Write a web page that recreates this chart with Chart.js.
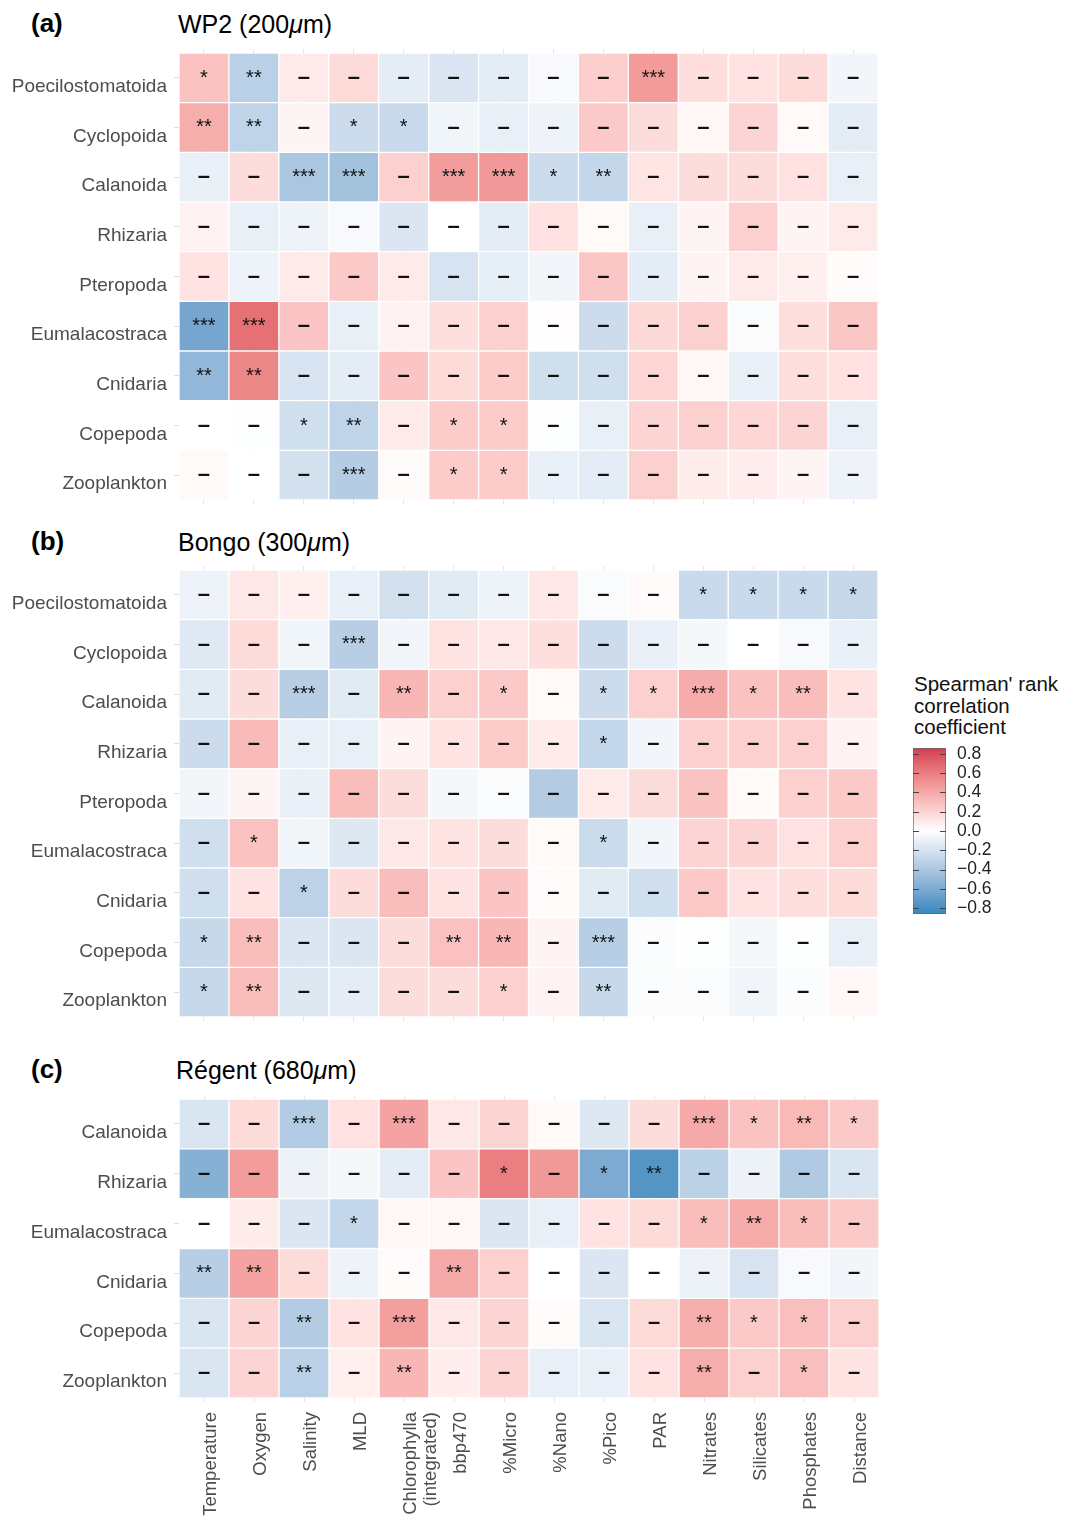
<!DOCTYPE html>
<html>
<head>
<meta charset="utf-8">
<script src="https://cdn.jsdelivr.net/npm/chart.js@4.4.0/dist/chart.umd.min.js"></script>
<style>
  body { margin: 0; background: #fff; width: 1081px; height: 1517px; overflow: hidden; position: relative;
         font-family: "Liberation Sans", Arial, sans-serif; }
  canvas { position: absolute; }
  .tag { position: absolute; font-size: 26px; font-weight: bold; line-height: 24px; color: #000; }
  .ttl { position: absolute; font-size: 25px; line-height: 24px; color: #000; }
  .legtitle { position: absolute; left: 914px; top: 673px; font-size: 20.5px; line-height: 21.5px; color: #111; }
</style>
</head>
<body>
<div class="tag" style="left:31px;top:11px">(a)</div>
<div class="ttl" style="left:178px;top:12px">WP2 (200<i>μ</i>m)</div>
<div class="tag" style="left:31px;top:529px">(b)</div>
<div class="ttl" style="left:178px;top:530px">Bongo (300<i>μ</i>m)</div>
<div class="tag" style="left:31px;top:1057px">(c)</div>
<div class="ttl" style="left:176px;top:1058px">Régent (680<i>μ</i>m)</div>
<div class="legtitle">Spearman' rank<br>correlation<br>coefficient</div>

<canvas id="pa" width="880" height="512" style="left:0;top:0"></canvas>
<canvas id="pb" width="880" height="512" style="left:0;top:517px"></canvas>
<canvas id="pc" width="881" height="471" style="left:0;top:1046px"></canvas>
<canvas id="leg" width="170" height="200" style="left:900px;top:730px"></canvas>

<script>
// environmental variables (x axis)
const columns = ['Temperature', 'Oxygen', 'Salinity', 'MLD', ['Chlorophylla', '(integrated)'], 'bbp470',
  '%Micro', '%Nano', '%Pico', 'PAR', 'Nitrates', 'Silicates', 'Phosphates', 'Distance'];

// (a) WP2 200um - rows top to bottom
const rowsA = ['Poecilostomatoida', 'Cyclopoida', 'Calanoida', 'Rhizaria', 'Pteropoda', 'Eumalacostraca', 'Cnidaria', 'Copepoda', 'Zooplankton'];
const valuesA = [
  [0.28, -0.33, 0.10, 0.17, -0.13, -0.17, -0.13, -0.04, 0.23, 0.47, 0.15, 0.13, 0.17, -0.06],
  [0.38, -0.30, 0.05, -0.24, -0.26, -0.07, -0.11, -0.08, 0.25, 0.16, 0.04, 0.20, 0.03, -0.13],
  [-0.10, 0.16, -0.40, -0.43, 0.22, 0.46, 0.48, -0.24, -0.28, 0.12, 0.16, 0.16, 0.14, -0.11],
  [0.06, -0.11, -0.08, -0.04, -0.17, 0.00, -0.13, 0.14, 0.03, -0.11, 0.05, 0.22, 0.05, 0.10],
  [0.13, -0.08, 0.10, 0.25, 0.10, -0.19, -0.12, -0.06, 0.26, -0.13, 0.05, 0.10, 0.07, 0.02],
  [-0.63, 0.66, 0.27, -0.11, 0.06, 0.15, 0.22, 0.01, -0.24, 0.18, 0.22, -0.03, 0.15, 0.26],
  [-0.50, 0.56, -0.19, -0.13, 0.27, 0.17, 0.24, -0.22, -0.22, 0.19, 0.04, -0.11, 0.15, 0.14],
  [0.00, -0.01, -0.22, -0.30, 0.10, 0.24, 0.24, -0.01, -0.11, 0.20, 0.22, 0.19, 0.20, -0.11],
  [0.03, 0.00, -0.21, -0.35, 0.02, 0.24, 0.24, -0.10, -0.13, 0.22, 0.09, 0.08, 0.05, -0.08]
];
const marksA = [
  ['*', '**', '-', '-', '-', '-', '-', '-', '-', '***', '-', '-', '-', '-'],
  ['**', '**', '-', '*', '*', '-', '-', '-', '-', '-', '-', '-', '-', '-'],
  ['-', '-', '***', '***', '-', '***', '***', '*', '**', '-', '-', '-', '-', '-'],
  ['-', '-', '-', '-', '-', '-', '-', '-', '-', '-', '-', '-', '-', '-'],
  ['-', '-', '-', '-', '-', '-', '-', '-', '-', '-', '-', '-', '-', '-'],
  ['***', '***', '-', '-', '-', '-', '-', '-', '-', '-', '-', '-', '-', '-'],
  ['**', '**', '-', '-', '-', '-', '-', '-', '-', '-', '-', '-', '-', '-'],
  ['-', '-', '*', '**', '-', '*', '*', '-', '-', '-', '-', '-', '-', '-'],
  ['-', '-', '-', '***', '-', '*', '*', '-', '-', '-', '-', '-', '-', '-']
];

// (b) Bongo 300um
const rowsB = ['Poecilostomatoida', 'Cyclopoida', 'Calanoida', 'Rhizaria', 'Pteropoda', 'Eumalacostraca', 'Cnidaria', 'Copepoda', 'Zooplankton'];
const valuesB = [
  [-0.08, 0.11, 0.07, -0.10, -0.21, -0.14, -0.08, 0.11, -0.03, 0.02, -0.26, -0.26, -0.26, -0.27],
  [-0.15, 0.17, -0.07, -0.34, -0.06, 0.13, 0.11, 0.15, -0.24, -0.10, -0.05, 0.00, -0.04, -0.10],
  [-0.14, 0.16, -0.34, -0.14, 0.34, 0.22, 0.25, 0.03, -0.24, 0.22, 0.39, 0.28, 0.31, 0.13],
  [-0.24, 0.32, -0.11, -0.11, 0.05, 0.13, 0.24, 0.10, -0.28, -0.06, 0.22, 0.22, 0.22, 0.06],
  [-0.06, 0.05, -0.10, 0.31, 0.16, -0.05, -0.02, -0.36, 0.10, 0.16, 0.28, 0.03, 0.22, 0.25],
  [-0.22, 0.28, -0.07, -0.16, 0.11, 0.13, 0.16, 0.03, -0.25, -0.06, 0.20, 0.20, 0.14, 0.22],
  [-0.22, 0.13, -0.31, 0.16, 0.31, 0.13, 0.27, 0.02, -0.14, -0.22, 0.25, 0.13, 0.15, 0.17],
  [-0.27, 0.31, -0.17, -0.17, 0.16, 0.29, 0.34, 0.05, -0.34, -0.02, -0.01, -0.05, -0.01, -0.11],
  [-0.27, 0.31, -0.16, -0.13, 0.16, 0.16, 0.22, 0.06, -0.27, -0.02, -0.02, -0.07, -0.02, 0.04]
];
const marksB = [
  ['-', '-', '-', '-', '-', '-', '-', '-', '-', '-', '*', '*', '*', '*'],
  ['-', '-', '-', '***', '-', '-', '-', '-', '-', '-', '-', '-', '-', '-'],
  ['-', '-', '***', '-', '**', '-', '*', '-', '*', '*', '***', '*', '**', '-'],
  ['-', '-', '-', '-', '-', '-', '-', '-', '*', '-', '-', '-', '-', '-'],
  ['-', '-', '-', '-', '-', '-', '-', '-', '-', '-', '-', '-', '-', '-'],
  ['-', '*', '-', '-', '-', '-', '-', '-', '*', '-', '-', '-', '-', '-'],
  ['-', '-', '*', '-', '-', '-', '-', '-', '-', '-', '-', '-', '-', '-'],
  ['*', '**', '-', '-', '-', '**', '**', '-', '***', '-', '-', '-', '-', '-'],
  ['*', '**', '-', '-', '-', '-', '*', '-', '**', '-', '-', '-', '-', '-']
];

// (c) Regent 680um
const rowsC = ['Calanoida', 'Rhizaria', 'Eumalacostraca', 'Cnidaria', 'Copepoda', 'Zooplankton'];
const valuesC = [
  [-0.18, 0.17, -0.36, 0.14, 0.43, 0.11, 0.20, 0.03, -0.16, 0.16, 0.40, 0.28, 0.33, 0.25],
  [-0.56, 0.46, -0.09, -0.05, -0.13, 0.27, 0.60, 0.48, -0.60, -0.76, -0.32, -0.09, -0.37, -0.18],
  [0.00, 0.09, -0.17, -0.28, 0.04, 0.04, -0.17, -0.11, 0.13, 0.17, 0.31, 0.39, 0.31, 0.25],
  [-0.34, 0.43, 0.17, -0.08, 0.02, 0.40, 0.22, 0.00, -0.17, 0.00, -0.09, -0.19, -0.04, -0.06],
  [-0.18, 0.20, -0.36, 0.13, 0.45, 0.11, 0.20, 0.02, -0.18, 0.17, 0.38, 0.25, 0.30, 0.22],
  [-0.18, 0.20, -0.33, 0.07, 0.34, 0.08, 0.20, -0.11, -0.11, 0.13, 0.38, 0.22, 0.30, 0.13]
];
const marksC = [
  ['-', '-', '***', '-', '***', '-', '-', '-', '-', '-', '***', '*', '**', '*'],
  ['-', '-', '-', '-', '-', '-', '*', '-', '*', '**', '-', '-', '-', '-'],
  ['-', '-', '-', '*', '-', '-', '-', '-', '-', '-', '*', '**', '*', '-'],
  ['**', '**', '-', '-', '-', '**', '-', '-', '-', '-', '-', '-', '-', '-'],
  ['-', '-', '**', '-', '***', '-', '-', '-', '-', '-', '**', '*', '*', '-'],
  ['-', '-', '**', '-', '**', '-', '-', '-', '-', '-', '**', '-', '*', '-']
];

const legendTicks = [0.8, 0.6, 0.4, 0.2, 0, -0.2, -0.4, -0.6, -0.8];

// colour scale (gradient2: blue - white - red, interpolated in Lab like ggplot)
const LOW = [50, 136, 189], HIGH = [213, 62, 79], LIM = 0.86;

function toLin(c) { c /= 255; return c <= 0.04045 ? c / 12.92 : Math.pow((c + 0.055) / 1.055, 2.4); }
function fromLin(c) { const v = c <= 0.0031308 ? 12.92 * c : 1.055 * Math.pow(c, 1 / 2.4) - 0.055; return Math.max(0, Math.min(255, Math.round(v * 255))); }
function rgb2lab(rgb) {
  const [r, g, b] = rgb.map(toLin);
  const x = (0.4124 * r + 0.3576 * g + 0.1805 * b) / 0.95047;
  const y = (0.2126 * r + 0.7152 * g + 0.0722 * b);
  const z = (0.0193 * r + 0.1192 * g + 0.9505 * b) / 1.08883;
  const f = t => t > 0.008856 ? Math.cbrt(t) : 7.787 * t + 16 / 116;
  return [116 * f(y) - 16, 500 * (f(x) - f(y)), 200 * (f(y) - f(z))];
}
function lab2rgb(lab) {
  const fy = (lab[0] + 16) / 116, fx = fy + lab[1] / 500, fz = fy - lab[2] / 200;
  const inv = t => t * t * t > 0.008856 ? t * t * t : (t - 16 / 116) / 7.787;
  const x = inv(fx) * 0.95047, y = inv(fy), z = inv(fz) * 1.08883;
  const r = 3.2406 * x - 1.5372 * y - 0.4986 * z;
  const g = -0.9689 * x + 1.8758 * y + 0.0415 * z;
  const b = 0.0557 * x - 0.2040 * y + 1.0570 * z;
  return [r, g, b].map(fromLin);
}
const LAB_W = rgb2lab([255, 255, 255]), LAB_LOW = rgb2lab(LOW), LAB_HIGH = rgb2lab(HIGH);

function fillFor(v) {
  const t = Math.min(1, Math.abs(v) / LIM);
  const end = v < 0 ? LAB_LOW : LAB_HIGH;
  const c = lab2rgb(LAB_W.map((w, k) => w + (end[k] - w) * t));
  return 'rgb(' + c.join(',') + ')';
}

Chart.defaults.font.family = '"Liberation Sans", Arial, sans-serif';
Chart.defaults.animation = false;

function sigPlugin(marks) {
  return {
    id: 'sig',
    afterDatasetsDraw(chart) {
      const ctx = chart.ctx;
      ctx.save();
      ctx.textAlign = 'center';
      ctx.textBaseline = 'middle';
      ctx.fillStyle = '#111';
      chart.data.datasets.forEach((ds, d) => {
        chart.getDatasetMeta(d).data.forEach((bar, j) => {
          const m = marks[d][j];
          const cy = (bar.y + bar.base) / 2;
          if (m === '-') {
            ctx.font = 'bold 22px "Liberation Sans"';
            ctx.fillText('–', bar.x, cy);
          } else {
            ctx.font = '20px "Liberation Sans"';
            ctx.fillText(m, bar.x, cy + 0.5);
          }
        });
      });
      ctx.restore();
    }
  };
}

function heatmap(id, rows, values, marks, withX) {
  const n = rows.length;
  const datasets = rows.map((name, i) => ({
    label: name,
    data: columns.map(() => [n - 1 - i, n - i]),
    backgroundColor: values[i].map(fillFor),
    borderColor: 'rgba(255,255,255,0.5)',
    borderWidth: 1,
    borderSkipped: false,
    grouped: false,
    barPercentage: 1,
    categoryPercentage: 1
  }));
  return new Chart(id, {
    type: 'bar',
    data: { labels: columns, datasets: datasets },
    options: {
      responsive: false,
      layout: { padding: { left: 0, right: 2, top: 49, bottom: withX ? 0 : 8 } },
      plugins: { legend: { display: false }, tooltip: { enabled: false } },
      scales: {
        x: {
          afterFit: (s) => { s.height = withX ? 115 : 0; s.paddingLeft = 0; s.paddingRight = 0; },
          grid: { offset: false, drawTicks: false, color: '#e6e6e6' },
          border: { display: false },
          ticks: {
            display: withX, autoSkip: false, maxRotation: 90, minRotation: 90,
            padding: 10, labelOffset: 7, color: '#4d4d4d',
            font: { size: 18.5, lineHeight: 1.1 }
          }
        },
        y: {
          min: -0.08, max: n + 0.08,
          afterBuildTicks: (s) => { s.ticks = rows.map((r, i) => ({ value: n - 1 - i + 0.5 })); },
          afterFit: (s) => { s.width = 179; s.paddingTop = 0; s.paddingBottom = 0; },
          grid: { drawOnChartArea: false, tickLength: 5, color: '#dedede' },
          border: { display: false },
          ticks: {
            autoSkip: false, padding: 7, labelOffset: 9, color: '#4d4d4d',
            font: { size: 19 },
            callback: (v) => rows[n - 1 - Math.floor(v)]
          }
        }
      }
    },
    plugins: [sigPlugin(marks)]
  });
}

heatmap('pa', rowsA, valuesA, marksA, false);
heatmap('pb', rowsB, valuesB, marksB, false);
heatmap('pc', rowsC, valuesC, marksC, true);

// colour bar legend
const barTicks = {
  id: 'barTicks',
  afterDatasetsDraw(chart) {
    const ctx = chart.ctx, a = chart.chartArea, y = chart.scales.y;
    ctx.save();
    ctx.strokeStyle = '#444';
    ctx.lineWidth = 1;
    legendTicks.forEach(t => {
      const py = Math.round(y.getPixelForValue(t)) + 0.5;
      ctx.beginPath();
      ctx.moveTo(a.left, py); ctx.lineTo(a.left + 6, py);
      ctx.moveTo(a.right - 6, py); ctx.lineTo(a.right, py);
      ctx.stroke();
    });
    ctx.restore();
  }
};

new Chart('leg', {
  type: 'bar',
  data: {
    labels: ['rho'],
    datasets: [{
      data: [[-LIM, LIM]],
      backgroundColor: (c) => {
        const ch = c.chart;
        if (!ch.chartArea) return null;
        const y = ch.scales.y;
        const g = ch.ctx.createLinearGradient(0, y.getPixelForValue(-LIM), 0, y.getPixelForValue(LIM));
        [-1, -0.75, -0.5, -0.25, 0, 0.25, 0.5, 0.75, 1].forEach(f => g.addColorStop((f + 1) / 2, fillFor(f * LIM)));
        return g;
      },
      borderColor: '#666',
      borderWidth: 1,
      borderSkipped: false,
      barPercentage: 1,
      categoryPercentage: 1
    }]
  },
  options: {
    responsive: false,
    layout: { padding: { left: 13, right: 64, top: 18, bottom: 16 } },
    plugins: { legend: { display: false }, tooltip: { enabled: false } },
    scales: {
      x: { display: false },
      y: {
        position: 'right',
        min: -LIM, max: LIM,
        afterBuildTicks: (s) => { s.ticks = legendTicks.map(v => ({ value: v })); },
        afterFit: (s) => { s.width = 60; s.paddingTop = 0; s.paddingBottom = 0; },
        grid: { display: false, drawTicks: false },
        border: { display: false },
        ticks: {
          autoSkip: false, padding: 11, color: '#222', font: { size: 17.5 },
          callback: (v) => v.toFixed(1).replace('-', '\u2212')
        }
      }
    }
  },
  plugins: [barTicks]
});
</script>
</body>
</html>
